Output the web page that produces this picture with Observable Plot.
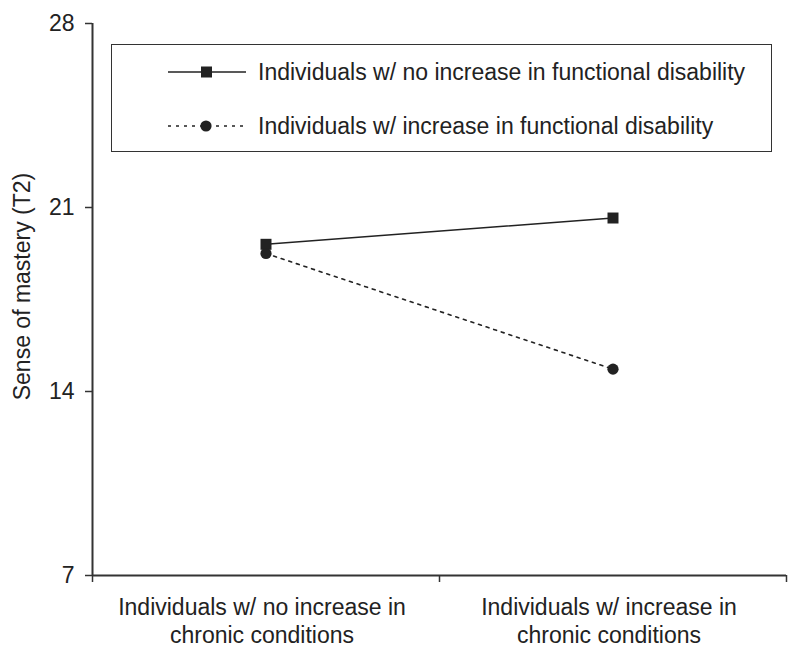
<!DOCTYPE html>
<html>
<head>
<meta charset="utf-8">
<script src="https://cdn.jsdelivr.net/npm/d3@7"></script>
<script src="https://cdn.jsdelivr.net/npm/@observablehq/plot@0.6"></script>
<style>
  body { margin: 0; background: #fff; font-family: "Liberation Sans", Arial, Helvetica, sans-serif; }
  #wrap { position: relative; width: 799px; height: 657px; }
  #legend { position: absolute; left: 111px; top: 44px; width: 661px; height: 108px; box-sizing: border-box; border: 1.5px solid #333; background: #fff; }
  .lsym { position: absolute; left: 168px; width: 78px; height: 16px; }
  .ltxt { position: absolute; left: 258px; font-size: 23px; line-height: 23px; color: #222; white-space: nowrap; }
</style>
</head>
<body>
<div id="wrap"></div>
<script>
// ---- data ----
const categories = ["Individuals w/ no increase in\nchronic conditions", "Individuals w/ increase in\nchronic conditions"];
const seriesNames = ["Individuals w/ no increase in functional disability", "Individuals w/ increase in functional disability"];
const noIncreaseValues = [19.6, 20.6];
const increaseValues = [19.25, 14.85];
const yTicks = [7, 14, 21, 28];
const yTitle = "Sense of mastery (T2)";

// ---- derived tables ----
const xDomain = [-0.5, categories.length - 0.5];
const catIndex = categories.map((c, i) => i);
const boundaries = d3.range(categories.length + 1).map(i => i - 0.5);
const rowsA = categories.map((c, i) => ({ xi: i, v: noIncreaseValues[i] }));
const rowsB = categories.map((c, i) => ({ xi: i, v: increaseValues[i] }));

const ink = "#222";
const axisInk = "#333";

const chart = Plot.plot({
  width: 799,
  height: 657,
  marginLeft: 92,
  marginRight: 13,
  marginTop: 23,
  marginBottom: 82,
  style: { fontFamily: '"Liberation Sans", Arial, Helvetica, sans-serif', color: ink, background: "#fff" },
  x: { type: "linear", domain: xDomain },
  y: { domain: [yTicks[0], yTicks[yTicks.length - 1]] },
  marks: [
    Plot.axisY({ ticks: yTicks, tickSize: 7, tickPadding: 11, fontSize: 23, label: null, stroke: axisInk, strokeWidth: 1.5, fill: ink }),
    Plot.axisX({ ticks: boundaries, tickSize: 7, tickFormat: () => "", label: null, stroke: axisInk, strokeWidth: 1.5 }),
    Plot.axisX({ ticks: catIndex, tickSize: 0, tickPadding: 20, dx: -4, tickFormat: i => categories[i], fontSize: 23, lineHeight: 1.22, label: null, fill: ink }),
    Plot.ruleY([yTicks[0]], { stroke: axisInk, strokeWidth: 2 }),
    Plot.ruleX([xDomain[0]], { stroke: axisInk, strokeWidth: 2 }),
    Plot.text([yTitle], { frameAnchor: "left", dx: -70, dy: -13, rotate: -90, textAnchor: "middle", lineAnchor: "middle", fontSize: 23, fill: ink }),
    Plot.line(rowsA, { x: "xi", y: "v", stroke: ink, strokeWidth: 1.6 }),
    Plot.line(rowsB, { x: "xi", y: "v", stroke: ink, strokeWidth: 1.6, strokeDasharray: "3,5" }),
    Plot.dot(rowsA, { x: "xi", y: "v", symbol: "square", r: 6.2, fill: ink, stroke: "none" }),
    Plot.dot(rowsB, { x: "xi", y: "v", symbol: "circle", r: 5.6, fill: ink, stroke: "none" })
  ]
});

const wrap = document.getElementById("wrap");
wrap.appendChild(chart);

// ---- legend ----
const legend = document.createElement("div");
legend.id = "legend";
wrap.appendChild(legend);

const rowCenters = [72, 126];
const symbols = [
  `<svg class="lsym" viewBox="0 0 78 16"><line x1="0" y1="8" x2="78" y2="8" stroke="${ink}" stroke-width="1.6"/><rect x="33" y="2.5" width="11" height="11" fill="${ink}"/></svg>`,
  `<svg class="lsym" viewBox="0 0 78 16"><line x1="0" y1="8" x2="78" y2="8" stroke="${ink}" stroke-width="1.6" stroke-dasharray="3,5"/><circle cx="38" cy="8" r="5.6" fill="${ink}"/></svg>`
];
seriesNames.forEach((name, i) => {
  const holder = document.createElement("div");
  holder.innerHTML = symbols[i];
  const s = holder.firstChild;
  s.style.top = (rowCenters[i] - 8) + "px";
  wrap.appendChild(s);
  const t = document.createElement("div");
  t.className = "ltxt";
  t.textContent = name;
  t.style.top = (rowCenters[i] - 11) + "px";
  wrap.appendChild(t);
});
</script>
</body>
</html>
